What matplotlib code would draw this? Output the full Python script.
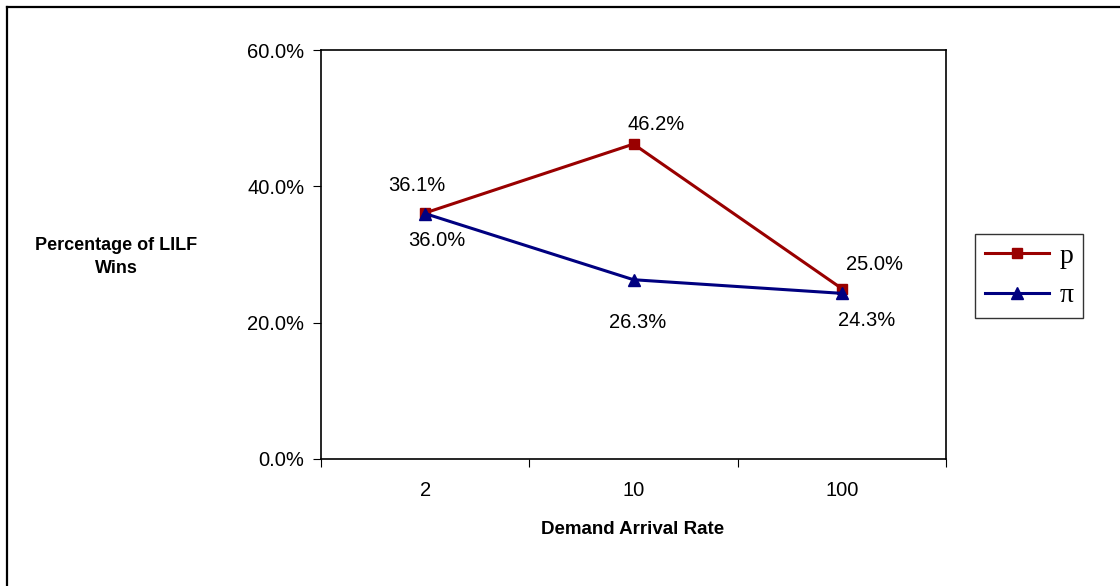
import matplotlib
matplotlib.use("Agg")
import matplotlib.pyplot as plt
from matplotlib.lines import Line2D

categories = ["2", "10", "100"]
p_values = [36.1, 46.2, 25.0]
pi_values = [36.0, 26.3, 24.3]
yticks = [0, 20, 40, 60]

# label offsets in pixels (dx, dy)
p_offsets = [(-8, 27), (23, 20), (33, 24)]
pi_offsets = [(12, -27), (4, -43), (25, -27)]

plt.rcParams['font.family'] = ['Liberation Sans', 'DejaVu Sans']

W, H = 1120, 586
fig = plt.figure(figsize=(W / 100, H / 100), dpi=100)

# chart area border: only the top and left edges are inside the picture
fig.lines.append(Line2D([7 / W, 1], [1 - 7 / H, 1 - 7 / H], transform=fig.transFigure,
                        color='black', lw=1.6))
fig.lines.append(Line2D([7 / W, 7 / W], [0, 1 - 7 / H], transform=fig.transFigure,
                        color='black', lw=1.6))

ax = fig.add_axes([321 / W, 1 - 459 / H, 625 / W, 409 / H])

x = [0.5, 1.5, 2.5]
red = '#990000'
blue = '#000080'
ax.plot(x, p_values, color=red, lw=2.2, marker='s', ms=7, label='p')
ax.plot(x, pi_values, color=blue, lw=2.2, marker='^', ms=8, label='π')

for xi, v, (dx, dy) in zip(x, p_values, p_offsets):
    ax.annotate(f"{v:.1f}%", (xi, v), xytext=(dx * 0.72, dy * 0.72),
                textcoords='offset points', ha='center', va='center', fontsize=14.5)
for xi, v, (dx, dy) in zip(x, pi_values, pi_offsets):
    ax.annotate(f"{v:.1f}%", (xi, v), xytext=(dx * 0.72, dy * 0.72),
                textcoords='offset points', ha='center', va='center', fontsize=14.5)

ax.set_xlim(0, 3)
ax.set_ylim(0, 60)
ax.set_yticks(yticks)
ax.set_yticklabels([f"{t:.1f}%" for t in yticks], fontsize=14.5)
ax.set_xticks([0, 1, 2, 3])
ax.set_xticklabels([])
ax.set_xticks(x, minor=True)
ax.set_xticklabels(categories, minor=True, fontsize=14.5)
ax.tick_params(axis='x', which='minor', length=0, pad=16)
ax.tick_params(axis='x', which='major', direction='out', length=6)
ax.tick_params(axis='y', direction='out', length=6, pad=6)
for s in ax.spines.values():
    s.set_linewidth(1.2)

fig.text(633 / W, 1 - 529 / H, "Demand Arrival Rate", ha='center', va='center',
         fontsize=13.5, fontweight='bold')
fig.text(116 / W, 1 - 257 / H, "Percentage of LILF\nWins", ha='center',
         va='center', fontsize=13, fontweight='bold', linespacing=1.5)

leg = ax.legend(loc='center left', bbox_to_anchor=(975 / W, 1 - 276 / H),
                bbox_transform=fig.transFigure, frameon=True, fancybox=False,
                edgecolor='black', prop={'family': 'Liberation Serif', 'size': 20},
                handlelength=2.3, handletextpad=0.4, labelspacing=0.5, borderpad=0.35,
                borderaxespad=0)
leg.get_frame().set_linewidth(1.0)

fig.savefig("out.png", dpi=100)
